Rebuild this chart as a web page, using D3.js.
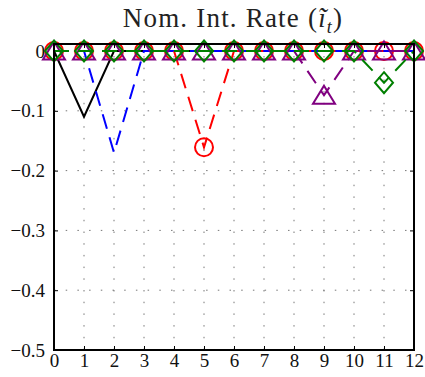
<!DOCTYPE html>
<html lang="en">
<head>
<meta charset="UTF-8">
<title>Nom. Int. Rate</title>
<script src="https://cdn.jsdelivr.net/npm/d3@7"></script>
<style>
    body { margin: 0; background: #fff; }
    svg { display: block; }
    svg text { font-family: "Liberation Serif", "DejaVu Serif", serif !important; }
</style>
</head>
<body>
<div id="chart"></div>
<script>
    // horizons 0..12
    var horizons = d3.range(0, 13);
    var xTicks = [0, 1, 2, 3, 4, 5, 6, 7, 8, 9, 10, 11, 12];
    var yTicks = [0, -0.1, -0.2, -0.3, -0.4, -0.5];
    var yTop = 0.0117;

    // responses
    var shockBlack  = [0, -0.11, 0, 0, 0, 0, 0, 0, 0, 0, 0, 0, 0];
    var shockBlue   = [0, 0, -0.17, 0, 0, 0, 0, 0, 0, 0, 0, 0, 0];
    var shockRed    = [0, 0, 0, 0, 0, -0.161, 0, 0, 0, 0, 0, 0, 0];
    var shockPurple = [0, 0, 0, 0, 0, 0, 0, 0, 0, -0.074, 0, 0, 0];
    var shockGreen  = [0, 0, 0, 0, 0, 0, 0, 0, 0, 0, 0, -0.053, 0];

    var series = [
        { values: shockBlack,  color: "#000000", dash: null,    marker: null },
        { values: shockBlue,   color: "#0000ff", dash: "15,9",  marker: null },
        { values: shockRed,    color: "#ff0000", dash: "15,9",  marker: "circle" },
        { values: shockPurple, color: "#800080", dash: "15,9",  marker: "triangle" },
        { values: shockGreen,  color: "#007f00", dash: "15,9",  marker: "diamond" }
    ];

    var W = 425, H = 377;
    var m = { left: 54, right: 11, top: 44, bottom: 27 };

    var svg = d3.select("#chart").append("svg")
        .attr("width", W).attr("height", H);

    var x = d3.scaleLinear().domain([0, 12]).range([m.left, W - m.right]);
    var y = d3.scaleLinear().domain([-0.5, yTop]).range([H - m.bottom, m.top]);

    // dotted grid
    var grid = svg.append("g").attr("stroke", "#777").attr("stroke-width", 1)
        .attr("stroke-dasharray", "1.5,10.2");
    grid.selectAll("line.v").data(xTicks.slice(1, -1)).enter().append("line")
        .attr("x1", d => x(d)).attr("x2", d => x(d))
        .attr("y1", y(-0.5)).attr("y2", y(yTop));
    grid.selectAll("line.h").data(yTicks.slice(1, -1)).enter().append("line")
        .attr("y1", d => y(d)).attr("y2", d => y(d))
        .attr("x1", x(0)).attr("x2", x(12));

    // axes, ticks pointing in
    svg.append("g").attr("transform", "translate(0," + y(-0.5) + ")")
        .call(d3.axisBottom(x).tickValues(xTicks).tickSize(-4).tickPadding(4).tickFormat(d3.format("d")))
        .call(g => g.select(".domain").remove());
    svg.append("g").attr("transform", "translate(" + x(0) + ",0)")
        .call(d3.axisLeft(y).tickValues(yTicks).tickSize(-4).tickPadding(9)
            .tickFormat(d => d === 0 ? "0" : "\u2212" + d3.format(".1f")(-d)))
        .call(g => g.select(".domain").remove());
    svg.append("g").attr("transform", "translate(" + x(12) + ",0)")
        .call(d3.axisRight(y).tickValues(yTicks).tickSize(-4).tickFormat(""))
        .call(g => g.select(".domain").remove());
    svg.append("g").attr("transform", "translate(0," + y(yTop) + ")")
        .call(d3.axisTop(x).tickValues(xTicks).tickSize(-4).tickFormat(""))
        .call(g => g.select(".domain").remove());

    svg.selectAll(".tick text").attr("font-size", 19).attr("fill", "#111");
    svg.selectAll(".tick line").attr("stroke", "#000");

    // markers, sized like the matlab ones
    var markerPath = {
        circle: "M9,0A9,9 0 1,1 -9,0A9,9 0 1,1 9,0Z",
        triangle: "M0,-9.5L11,8.5L-11,8.5Z",
        diamond: "M0,-10.5L9,0L0,10.5L-9,0Z"
    };

    // series
    var line = d3.line().x((d, i) => x(horizons[i])).y(d => y(d));

    series.forEach(function (s) {
        var g = svg.append("g");
        g.append("path").datum(s.values)
            .attr("d", line)
            .attr("fill", "none")
            .attr("stroke", s.color)
            .attr("stroke-width", 2)
            .attr("stroke-dasharray", s.dash);
        if (s.marker) {
            g.selectAll("path.mk").data(s.values).enter().append("path")
                .attr("class", "mk")
                .attr("d", markerPath[s.marker])
                .attr("transform", (d, i) => "translate(" + x(horizons[i]) + "," + y(d) + ")")
                .attr("fill", "none")
                .attr("stroke", s.color)
                .attr("stroke-width", 2);
        }
    });

    // box
    svg.append("rect")
        .attr("x", x(0)).attr("y", y(yTop))
        .attr("width", x(12) - x(0)).attr("height", y(-0.5) - y(yTop))
        .attr("fill", "none").attr("stroke", "#000").attr("stroke-width", 2);

    // title
    var t = svg.append("text").attr("x", 233).attr("y", 27)
        .attr("text-anchor", "middle").attr("font-size", 27)
        .attr("letter-spacing", 1.2).attr("fill", "#222");
    t.append("tspan").text("Nom. Int. Rate (");
    t.append("tspan").attr("font-style", "italic").text("\u0129");
    t.append("tspan").attr("font-style", "italic").attr("font-size", 18).attr("dy", 6).text("t");
    t.append("tspan").attr("dy", -6).text(")");
</script>
</body>
</html>
